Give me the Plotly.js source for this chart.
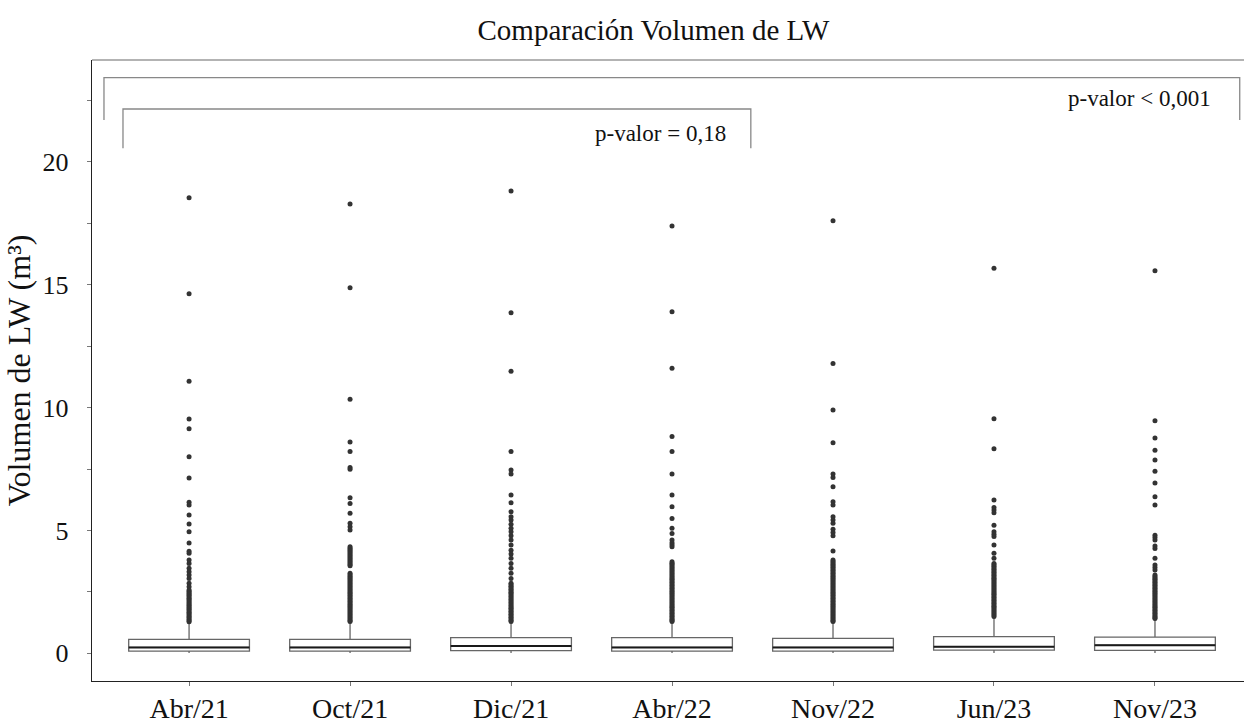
<!DOCTYPE html>
<html>
<head>
<meta charset="utf-8">
<script src="https://cdn.plot.ly/plotly-3.0.1.min.js"></script>
<style>html,body{margin:0;padding:0;background:#fff;}#chart{width:1244px;height:726px;}</style>
</head>
<body>
<div id="chart"></div>
<script>
// ---- data ----
const categories = ['Abr/21', 'Oct/21', 'Dic/21', 'Abr/22', 'Nov/22', 'Jun/23', 'Nov/23'];
const q1Values = [0.09, 0.09, 0.11, 0.09, 0.09, 0.13, 0.12];
const medianValues = [0.24, 0.24, 0.30, 0.24, 0.24, 0.27, 0.33];
const q3Values = [0.57, 0.57, 0.64, 0.64, 0.61, 0.68, 0.66];
const lowerFence = [0.01, 0.01, 0.01, 0.01, 0.01, 0.01, 0.01];
const upperFence = [1.22, 1.25, 1.25, 1.25, 1.25, 1.45, 1.38];

const outAbr21 = [18.54, 14.64, 11.07, 9.54, 9.14, 8.00, 7.14, 6.15, 6.04, 5.63, 5.26, 4.95, 4.49, 4.15, 4.07,
  3.80, 3.66, 3.46, 3.32, 3.19, 3.05, 2.85, 2.71,
  2.58, 2.53, 2.47, 2.41, 2.36, 2.30, 2.24, 2.19, 2.13, 2.07, 2.01, 1.96, 1.90, 1.84, 1.79, 1.73, 1.67, 1.62, 1.56, 1.50, 1.45, 1.39, 1.33, 1.28];
const outOct21 = [18.29, 14.88, 10.34, 8.60, 8.21, 7.56, 7.49, 6.33, 6.10, 5.70, 5.29, 5.15, 5.02,
  4.34, 4.28, 4.22, 4.16, 4.10, 4.04, 3.98, 3.92, 3.86, 3.80, 3.74, 3.68, 3.62, 3.56,
  3.26, 3.20, 3.14, 3.08, 3.02, 2.96, 2.90, 2.84, 2.78, 2.72, 2.66, 2.60, 2.54, 2.48, 2.42, 2.36, 2.30, 2.24, 2.18, 2.12, 2.06, 2.00, 1.94, 1.88, 1.82, 1.76, 1.70, 1.64, 1.58, 1.52, 1.46, 1.40, 1.34, 1.29];
const outDic21 = [18.82, 13.86, 11.48, 8.21, 7.46, 7.30, 6.44, 6.13,
  5.76, 5.56, 5.43, 5.25, 5.09, 4.95, 4.79, 4.61, 4.41, 4.20, 4.04, 3.87, 3.66, 3.46, 3.26, 3.05,
  2.85, 2.79, 2.73, 2.67, 2.61, 2.55, 2.49, 2.43, 2.37, 2.31, 2.25, 2.19, 2.13, 2.07, 2.01, 1.95, 1.89, 1.83, 1.77, 1.71, 1.65, 1.59, 1.53, 1.47, 1.41, 1.35, 1.29];
const outAbr22 = [17.39, 13.90, 11.60, 8.82, 8.21, 7.30, 6.44, 5.97, 5.49, 5.09, 4.88, 4.61, 4.50, 4.42, 4.34,
  3.73, 3.67, 3.61, 3.55, 3.49, 3.43, 3.37, 3.31, 3.25, 3.19, 3.13, 3.07, 3.01, 2.95, 2.89, 2.83, 2.77, 2.71, 2.65, 2.59, 2.53, 2.47, 2.41, 2.35, 2.29, 2.23, 2.17, 2.11, 2.05, 1.99, 1.93, 1.87, 1.81, 1.75, 1.69, 1.63, 1.57, 1.51, 1.45, 1.39, 1.34, 1.29];
const outNov22 = [17.61, 11.80, 9.90, 8.57, 7.30, 7.16, 6.78, 6.17, 6.04, 5.56, 5.43, 5.29, 5.05, 4.92, 4.79, 4.16,
  3.80, 3.74, 3.68, 3.62, 3.56, 3.50, 3.44, 3.38, 3.32, 3.26, 3.20, 3.14, 3.08, 3.02, 2.96, 2.90, 2.84, 2.78, 2.72, 2.66, 2.60, 2.54, 2.48, 2.42, 2.36, 2.30, 2.24, 2.18, 2.12, 2.06, 2.00, 1.94, 1.88, 1.82, 1.76, 1.70, 1.64, 1.58, 1.52, 1.46, 1.40, 1.34, 1.29];
const outJun23 = [15.67, 9.55, 8.33, 6.24, 5.94, 5.83, 5.72, 5.21, 4.95, 4.85, 4.75, 4.41, 4.07, 3.87,
  3.66, 3.60, 3.54, 3.48, 3.42, 3.36, 3.30, 3.24, 3.18, 3.12, 3.06, 3.00, 2.94, 2.88, 2.82, 2.76, 2.70, 2.64, 2.58, 2.52, 2.46, 2.40, 2.34, 2.28, 2.22, 2.16, 2.10, 2.04, 1.98, 1.92, 1.86, 1.80, 1.74, 1.68, 1.62, 1.56, 1.50];
const outNov23 = [15.57, 9.47, 8.76, 8.27, 7.87, 7.41, 6.93, 6.37, 6.04, 4.81, 4.71, 4.61, 4.37, 4.27, 3.87, 3.59, 3.49, 3.39,
  3.19, 3.13, 3.07, 3.01, 2.95, 2.89, 2.83, 2.77, 2.71, 2.65, 2.59, 2.53, 2.47, 2.41, 2.35, 2.29, 2.23, 2.17, 2.11, 2.05, 1.99, 1.93, 1.87, 1.81, 1.75, 1.69, 1.63, 1.57, 1.51, 1.45, 1.42];
const outliers = [outAbr21, outOct21, outDic21, outAbr22, outNov22, outJun23, outNov23];

const yTickVals = [0, 5, 10, 15, 20];
const yTickText = ['0', '5', '10', '15', '20'];

const titleText = 'Comparación Volumen de LW';
const yTitleText = 'Volumen de LW (m³)';
const pTextAll = 'p-valor &lt; 0,001';
const pTextPart = 'p-valor = 0,18';

// ---- build traces ----
const outX = [], outY = [];
outliers.forEach((arr, i) => arr.forEach(v => { outX.push(categories[i]); outY.push(v); }));

const FONT = 'Liberation Serif, Times New Roman, serif';

const boxTrace = {
  type: 'box', x: categories, q1: q1Values, median: medianValues, q3: q3Values,
  lowerfence: lowerFence, upperfence: upperFence,
  boxpoints: false, width: 0.75, whiskerwidth: 0,
  fillcolor: '#ffffff', line: {color: '#666666', width: 1.3},
  hoverinfo: 'skip', showlegend: false
};
const medianTrace = {
  type: 'box', x: categories, q1: medianValues, median: medianValues, q3: medianValues,
  lowerfence: medianValues, upperfence: medianValues,
  boxpoints: false, width: 0.75, whiskerwidth: 0,
  fillcolor: 'rgba(0,0,0,0)', line: {color: '#1a1a1a', width: 2},
  hoverinfo: 'skip', showlegend: false
};
const outTrace = {
  type: 'scatter', mode: 'markers', x: outX, y: outY,
  marker: {color: '#333333', size: 5},
  hoverinfo: 'skip', showlegend: false
};

const layout = {
  width: 1244, height: 726,
  margin: {l: 92, r: 0, t: 60, b: 45},
  paper_bgcolor: '#ffffff', plot_bgcolor: '#ffffff',
  font: {family: FONT, color: '#111111'},
  title: {text: titleText, font: {family: FONT, size: 29, color: '#111111'},
          x: 0.5253, xref: 'container', xanchor: 'center', y: 0.9587, yref: 'container', yanchor: 'middle'},
  xaxis: {
    type: 'category', categoryorder: 'array', categoryarray: categories,
    range: [-0.603, 6.553], showgrid: false, zeroline: false,
    showline: true, linecolor: '#222222', linewidth: 1.3,
    ticks: 'outside', ticklen: 4, tickcolor: '#777777',
    tickfont: {family: FONT, size: 28, color: '#111111'}, ticklabelstandoff: -2
  },
  yaxis: {
    range: [-1.127, 24.15], showgrid: false, zeroline: false,
    showline: true, linecolor: '#222222', linewidth: 1.3,
    tickmode: 'array', tickvals: yTickVals, ticktext: yTickText,
    ticks: 'outside', ticklen: 4, tickcolor: '#777777',
    minor: {dtick: 2.5, ticks: 'outside', ticklen: 4, tickcolor: '#777777', showgrid: false},
    tickfont: {family: FONT, size: 26, color: '#111111'}, ticklabelstandoff: 13,
    title: {text: yTitleText, font: {family: FONT, size: 32, color: '#111111'}, standoff: 2}
  },
  shapes: [
    {type: 'line', xref: 'paper', yref: 'paper', x0: 0, x1: 1, y0: 1, y1: 1, line: {color: '#9a9a9a', width: 1.3}},
    {type: 'path', xref: 'paper', yref: 'paper', path: 'M 0.0104 0.9034 L 0.0104 0.9715 L 0.9963 0.9715 L 0.9963 0.9034', line: {color: '#888888', width: 1.3}},
    {type: 'path', xref: 'paper', yref: 'paper', path: 'M 0.0269 0.8578 L 0.0269 0.9211 L 0.5719 0.9211 L 0.5719 0.8578', line: {color: '#888888', width: 1.3}}
  ],
  annotations: [
    {text: pTextAll, xref: 'paper', yref: 'paper', x: 0.9094, y: 0.9383, xanchor: 'center', yanchor: 'middle', showarrow: false, font: {family: FONT, size: 23, color: '#111111'}},
    {text: pTextPart, xref: 'paper', yref: 'paper', x: 0.4938, y: 0.8824, xanchor: 'center', yanchor: 'middle', showarrow: false, font: {family: FONT, size: 23, color: '#111111'}}
  ]
};

Plotly.newPlot('chart', [boxTrace, medianTrace, outTrace], layout, {displayModeBar: false, staticPlot: true});
</script>
</body>
</html>
